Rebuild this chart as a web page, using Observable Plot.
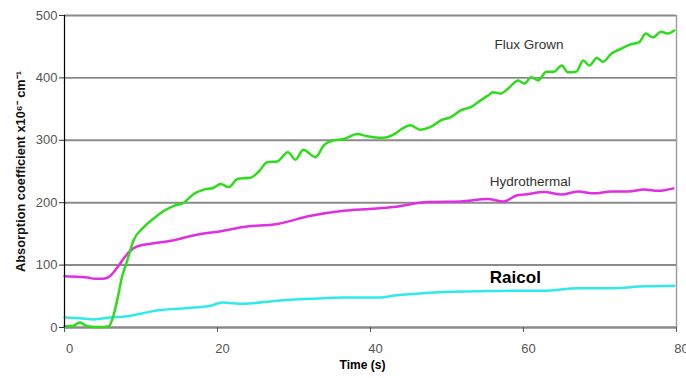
<!DOCTYPE html>
<html>
<head>
<meta charset="utf-8">
<script src="https://cdn.jsdelivr.net/npm/d3@7"></script>
<script src="https://cdn.jsdelivr.net/npm/@observablehq/plot@0.6"></script>
<style>
  html, body { margin: 0; padding: 0; background: #fff; }
  #chart svg { display: block; }
</style>
</head>
<body>
<div id="chart"></div>
<script>
// ---- Data ----
const xTicks = [0, 20, 40, 60, 80];
const yTicks = [0, 100, 200, 300, 400, 500];
const gridGray = [100, 200, 300, 500];
const gridDark = [400];

const fluxTime  = [0, 1, 1.5, 2, 2.5, 3, 4, 5, 5.8, 6.3, 7, 7.5, 8.2, 9, 10.3, 11.7, 13, 14.3, 15.6, 16.9, 18.2, 19.5, 20.4, 21.5, 22.6, 24.3, 25.4, 26.5, 27.8, 29.2, 30.2, 31.2, 32.8, 33.9, 35.2, 36.5, 38.3, 39.4, 40.4, 41.7, 43, 44.2, 45.2, 46.5, 47.8, 49.2, 50.5, 51.8, 53.1, 54.4, 55.4, 56, 57, 58, 59.3, 60.1, 61, 61.9, 63, 64, 65, 65.8, 66.9, 67.8, 68.6, 69.6, 70.4, 71.5, 72.8, 73.8, 75.1, 76, 76.9, 78, 78.8, 79.7];
const fluxValue = [2, 2, 5, 8, 5, 2, 1, 1, 2, 15, 50, 80, 107, 139, 160, 175, 187, 195, 200, 214, 221, 224, 230, 225, 238, 240, 250, 265, 266, 281, 269, 285, 273, 292, 300, 302, 310, 307, 305, 304, 309, 319, 324, 317, 321, 332, 337, 348, 353, 364, 372, 377, 375, 383, 396, 391, 401, 396, 410, 410, 420, 409, 410, 428, 420, 432, 426, 439, 447, 453, 457, 471, 465, 474, 471, 476];

const hydroTime  = [0, 2, 3, 4, 5, 5.6, 6, 6.9, 7.7, 8.6, 9.5, 11.7, 13.9, 16, 17.8, 20.3, 23.4, 27.8, 32.2, 36.5, 39.9, 43, 47.5, 51.8, 55.3, 57.4, 59.2, 60.1, 62.7, 65, 67.1, 69.2, 71.5, 73.7, 75.8, 77.6, 79.6];
const hydroValue = [82, 81, 80, 78, 78, 80, 83, 96, 110, 123, 130, 135, 139, 145, 150, 154, 161, 166, 179, 187, 190, 193, 201, 202, 206, 202, 212, 213, 217, 213, 218, 215, 218, 218, 221, 219, 223];

const raicolTime  = [0, 2, 3.8, 6, 8.2, 10.3, 12.5, 14.7, 16.9, 19.1, 20.6, 23.4, 27.8, 32.2, 36.5, 41.3, 43, 46, 49.5, 53.8, 59.2, 62.7, 67.1, 71.5, 75.8, 79.7];
const raicolValue = [16, 15, 13, 16, 18, 23, 28, 30, 32, 35, 40, 38, 43, 46, 48, 48, 51, 54, 57, 58, 59, 59, 63, 63, 66, 67];

const seriesNames = ["Flux Grown", "Hydrothermal", "Raicol"];
const labelTime  = [56.2, 55.6, 55.6];
const labelValue = [447, 226, 72];

const yLabel = "Absorption coefficient x10\u2076\u207B cm\u207B\u00B9";
const xLabel = "Time (s)";

// ---- Tables built from the arrays ----
const toRows = (ts, vs) => ts.map((t, i) => ({t, v: vs[i]}));
const flux = toRows(fluxTime, fluxValue);
const hydro = toRows(hydroTime, hydroValue);
const raicol = toRows(raicolTime, raicolValue);
const labels = seriesNames.map((name, i) => ({name, t: labelTime[i], v: labelValue[i]}));

const font = "'Liberation Sans', Arial, Helvetica, sans-serif";

const chart = Plot.plot({
  width: 686,
  height: 378,
  marginLeft: 64,
  marginRight: 10,
  marginTop: 15,
  marginBottom: 51,
  style: {fontFamily: font, background: "#fff"},
  x: {domain: [0, 80]},
  y: {domain: [0, 500]},
  marks: [
    Plot.ruleY(gridGray, {stroke: "#8a8a8a", strokeWidth: 2}),
    Plot.ruleY(gridDark, {stroke: "#333", strokeWidth: 1}),
    Plot.ruleX([80], {stroke: "#a0a0a0", strokeWidth: 1.5}),
    Plot.ruleY([0], {stroke: "#8a8a8a", strokeWidth: 2.5}),
    Plot.line(raicol, {x: "t", y: "v", stroke: "#30eaea", strokeWidth: 2.5, curve: "monotone-x"}),
    Plot.line(hydro, {x: "t", y: "v", stroke: "#e02ee0", strokeWidth: 2.5, curve: "monotone-x"}),
    Plot.line(flux, {x: "t", y: "v", stroke: "#2fdc1c", strokeWidth: 2.5, curve: "monotone-x"}),
    Plot.ruleX([0], {stroke: "#000", strokeWidth: 1.2}),
    Plot.axisY({ticks: yTicks, tickSize: 5, tickPadding: 2, fontSize: 13, fill: "#555", stroke: "#333", label: null}),
    Plot.axisX({ticks: xTicks, tickSize: 5, tickFormat: () => "", stroke: "#555", label: null}),
    Plot.axisX({ticks: xTicks, tickSize: 0, tickPadding: 16, dx: 5, fontSize: 13, fill: "#555", label: null}),
    Plot.text(labels.slice(0, 2), {x: "t", y: "v", text: "name", textAnchor: "start", lineAnchor: "bottom", fontSize: 13.5, fill: "#333"}),
    Plot.text(labels.slice(2), {x: "t", y: "v", text: "name", textAnchor: "start", lineAnchor: "bottom", fontSize: 17, fontWeight: "bold", fill: "#000"}),
    Plot.text([yLabel], {frameAnchor: "left", textAnchor: "middle", lineAnchor: "middle", dx: -44, rotate: -90, fontSize: 12.8, fontWeight: "bold", fill: "#111"}),
    Plot.text([xLabel], {frameAnchor: "bottom", dy: 41, dx: -8, fontSize: 12, fontWeight: "bold", fill: "#000"})
  ]
});

document.getElementById("chart").appendChild(chart);
</script>
</body>
</html>
